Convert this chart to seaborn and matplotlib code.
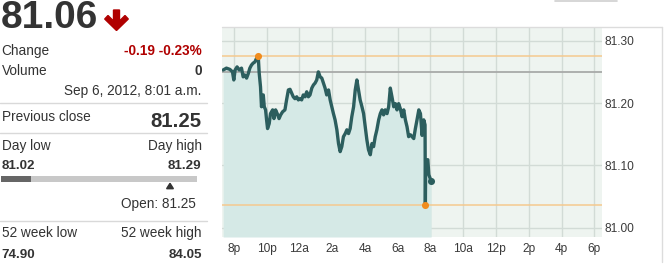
import matplotlib
matplotlib.use("Agg")
import matplotlib.pyplot as plt
from matplotlib.patches import Polygon, Rectangle
from matplotlib.lines import Line2D
import seaborn as sns
import pandas as pd

# ---------------- data ----------------
hours_after_8pm = [
    -0.65, -0.45, -0.24, -0.08, 0.00, 0.08, 0.20, 0.33, 0.47, 0.57, 0.67, 0.78, 0.88, 0.98,
    1.08, 1.18, 1.29, 1.39, 1.49, 1.55, 1.63, 1.69, 1.80, 1.86, 1.94, 2.00, 2.06, 2.16,
    2.24, 2.37, 2.45, 2.55, 2.65, 2.76, 2.86, 2.98, 3.12, 3.22, 3.33, 3.43, 3.53, 3.63,
    3.73, 3.84, 3.94, 4.04, 4.14, 4.24, 4.35, 4.45, 4.55, 4.65, 4.76, 4.86, 4.96, 5.06,
    5.16, 5.27, 5.37, 5.47, 5.57, 5.67, 5.78, 5.88, 5.98, 6.08, 6.18, 6.29, 6.39, 6.49,
    6.59, 6.69, 6.80, 6.90, 7.00, 7.10, 7.20, 7.31, 7.41, 7.51, 7.61, 7.71, 7.82, 7.92,
    8.02, 8.12, 8.22, 8.33, 8.43, 8.53, 8.63, 8.73, 8.84, 8.94, 9.04, 9.14, 9.24, 9.35,
    9.45, 9.55, 9.65, 9.76, 9.86, 9.96, 10.06, 10.16, 10.27, 10.37, 10.47, 10.57, 10.67,
    10.78, 10.88, 10.98, 11.08, 11.18, 11.29, 11.39, 11.49, 11.59, 11.67, 11.69, 11.71,
    11.84, 11.90, 12.04,
]
price = [
    81.253, 81.256, 81.254, 81.250, 81.237, 81.253, 81.258, 81.253, 81.256, 81.242, 81.245,
    81.240, 81.247, 81.256, 81.261, 81.264, 81.266, 81.272, 81.276, 81.248, 81.226, 81.194,
    81.213, 81.194, 81.189, 81.173, 81.159, 81.167, 81.183, 81.189, 81.175, 81.189, 81.183,
    81.175, 81.181, 81.186, 81.189, 81.205, 81.221, 81.222, 81.216, 81.210, 81.207, 81.210,
    81.205, 81.207, 81.205, 81.213, 81.210, 81.218, 81.210, 81.213, 81.224, 81.229, 81.232,
    81.237, 81.250, 81.242, 81.240, 81.232, 81.224, 81.213, 81.221, 81.205, 81.194, 81.183,
    81.173, 81.157, 81.135, 81.122, 81.130, 81.146, 81.151, 81.157, 81.151, 81.159, 81.178,
    81.194, 81.221, 81.237, 81.221, 81.205, 81.194, 81.183, 81.162, 81.141, 81.125, 81.117,
    81.135, 81.130, 81.146, 81.157, 81.173, 81.183, 81.189, 81.181, 81.189, 81.183, 81.194,
    81.224, 81.210, 81.194, 81.199, 81.189, 81.199, 81.191, 81.178, 81.189, 81.173, 81.162,
    81.146, 81.149, 81.146, 81.143, 81.159, 81.173, 81.189, 81.183, 81.148, 81.173, 81.165,
    81.037, 81.109, 81.109, 81.085, 81.075,
]
previous_close = 81.25
x_tick_hours = [0, 2, 4, 6, 8, 10, 12, 14, 16, 18, 20, 22]
x_tick_labels = ["8p", "10p", "12a", "2a", "4a", "6a", "8a", "10a", "12p", "2p", "4p", "6p"]
y_ticks = [81.00, 81.10, 81.20, 81.30]
y_tick_labels = ["81.00", "81.10", "81.20", "81.30"]

last_price = "81.06"
change_text = "-0.19 -0.23%"
volume_text = "0"
timestamp_text = "Sep 6, 2012, 8:01 a.m."
prev_close_text = "81.25"
day_low_text = "81.02"
day_high_text = "81.29"
open_text = "Open: 81.25"
wk52_low_text = "74.90"
wk52_high_text = "84.05"

df = pd.DataFrame({"hours": hours_after_8pm, "price": price})

# ---------------- style ----------------
BG = "#eef4f0"
FILL = "#d5e9e6"
LINE = "#2c5e5e"
GRID = "#d2dbd6"
ORANGE_LINE = "#f5c98f"
ORANGE_DOT = "#f08c1e"

sns.set_style("whitegrid", {"axes.facecolor": BG, "grid.color": GRID})
plt.rcParams["font.family"] = ["Liberation Sans", "DejaVu Sans"]

W, H = 666, 269
fig = plt.figure(figsize=(W / 100, H / 100), dpi=100)
fig.patch.set_facecolor("white")


def fx(x):
    return x / W


def fy(y):
    return 1 - y / H


# ---------------- chart ----------------
ax = fig.add_axes([fx(222), fy(237), fx(601.7) - fx(222), fy(27) - fy(237)])
ylo, yhi = 80.985, 81.322
ax.fill_between(df["hours"], df["price"], ylo, color=FILL, linewidth=0, zorder=1)
ax.axhline(df["price"].max(), color=ORANGE_LINE, lw=1.1, zorder=2)
ax.axhline(df["price"].min(), color=ORANGE_LINE, lw=1.1, zorder=2)
ax.axhline(previous_close, color="#a8aaa9", lw=1.3, zorder=2)
sns.lineplot(data=df, x="hours", y="price", ax=ax, color=LINE, linewidth=2.4,
             sort=False, zorder=4)
imax = df["price"].idxmax()
imin = df["price"].idxmin()
ax.scatter([df["hours"][imax], df["hours"][imin]], [df["price"][imax], df["price"][imin]],
           s=26, color=ORANGE_DOT, zorder=5, linewidths=0)
ax.scatter([df["hours"].iloc[-1]], [df["price"].iloc[-1]], s=26, color=LINE, zorder=5,
           linewidths=0)

ax.set_xlim(-0.72, 22.45)
ax.set_ylim(ylo, yhi)
ax.set_xticks(x_tick_hours)
ax.set_xticklabels(x_tick_labels)
ax.set_yticks(y_ticks)
ax.set_yticklabels(y_tick_labels)
ax.yaxis.tick_right()
ax.tick_params(axis="x", length=0, pad=4.6, labelsize=8.6, labelcolor="#3a3a3a")
ax.tick_params(axis="y", length=0, pad=1.8, labelsize=8.6, labelcolor="#3a3a3a")
for lbl in ax.get_yticklabels():
    lbl.set_horizontalalignment("left")
ax.grid(True, color=GRID, lw=1.0)
ax.set_xlabel("")
ax.set_ylabel("")
for s in ax.spines.values():
    s.set_visible(False)

# panel frame lines
fig.add_artist(Line2D([fx(222), fx(662)], [fy(27), fy(27)], color="#dcdcdc", lw=1.0))
fig.add_artist(Line2D([fx(662), fx(662)], [fy(27), fy(262)], color="#dcdcdc", lw=1.0))
fig.add_artist(Line2D([fx(555), fx(617)], [fy(0.7), fy(0.7)], color="#cfcfcf", lw=1.2))

# ---------------- left panel ----------------
DARK = "#333333"
RED = "#b00000"
REG = 9.8
fig.text(fx(1), fy(28.3), last_price, fontsize=28, fontweight="bold", color=DARK,
         va="baseline", ha="left")
arrow = [(113.5, 10), (119.5, 10), (119.5, 21), (125, 15.5), (128.3, 19), (116.5, 30.5),
         (104.7, 19), (108, 15.5), (113.5, 21)]
fig.add_artist(Polygon([(fx(x), fy(y)) for x, y in arrow], closed=True, color=RED,
                       transform=fig.transFigure))

R = 201.7


def row_left(y, s, **kw):
    fig.text(fx(1.5), fy(y), s, fontsize=kw.pop("fontsize", REG), color=kw.pop("color", DARK),
             va="baseline", ha="left", **kw)


def row_right(y, s, **kw):
    fig.text(fx(kw.pop("x", R)), fy(y), s, fontsize=kw.pop("fontsize", REG),
             color=kw.pop("color", DARK), va="baseline", ha="right", **kw)


row_left(55, "Change")
row_right(55, change_text, color=RED, fontweight="bold")
row_left(75, "Volume")
row_right(75, volume_text, fontweight="bold")
row_right(95, timestamp_text)

for ysep in (103.3, 132.7, 220.7):
    fig.add_artist(Line2D([fx(0), fx(207)], [fy(ysep), fy(ysep)], color="#d9d9d9", lw=1.0))

row_left(120.7, "Previous close")
row_right(126.7, prev_close_text, fontweight="bold", fontsize=14.7)
row_left(150, "Day low")
row_right(150, "Day high")
row_left(169.3, day_low_text, fontweight="bold", fontsize=9.6)
row_right(169.3, day_high_text, fontweight="bold", fontsize=9.6)

fig.add_artist(Rectangle((fx(1), fy(182)), fx(197) - fx(1), fy(176) - fy(182),
                         color="#c8c8c8", transform=fig.transFigure, lw=0))
fig.add_artist(Rectangle((fx(1), fy(182)), fx(31) - fx(1), fy(176) - fy(182),
                         color="#666666", transform=fig.transFigure, lw=0))
tri = [(170, 183.3), (173.4, 188.7), (166.6, 188.7)]
fig.add_artist(Polygon([(fx(x), fy(y)) for x, y in tri], closed=True, color="#333333",
                       transform=fig.transFigure))
row_right(208.3, open_text, x=196)

row_left(237.3, "52 week low")
row_right(237.3, "52 week high")
row_left(257.7, wk52_low_text, fontweight="bold", fontsize=9.6)
row_right(257.7, wk52_high_text, fontweight="bold", fontsize=9.6)

fig.savefig("out.png", dpi=100, facecolor="white")
